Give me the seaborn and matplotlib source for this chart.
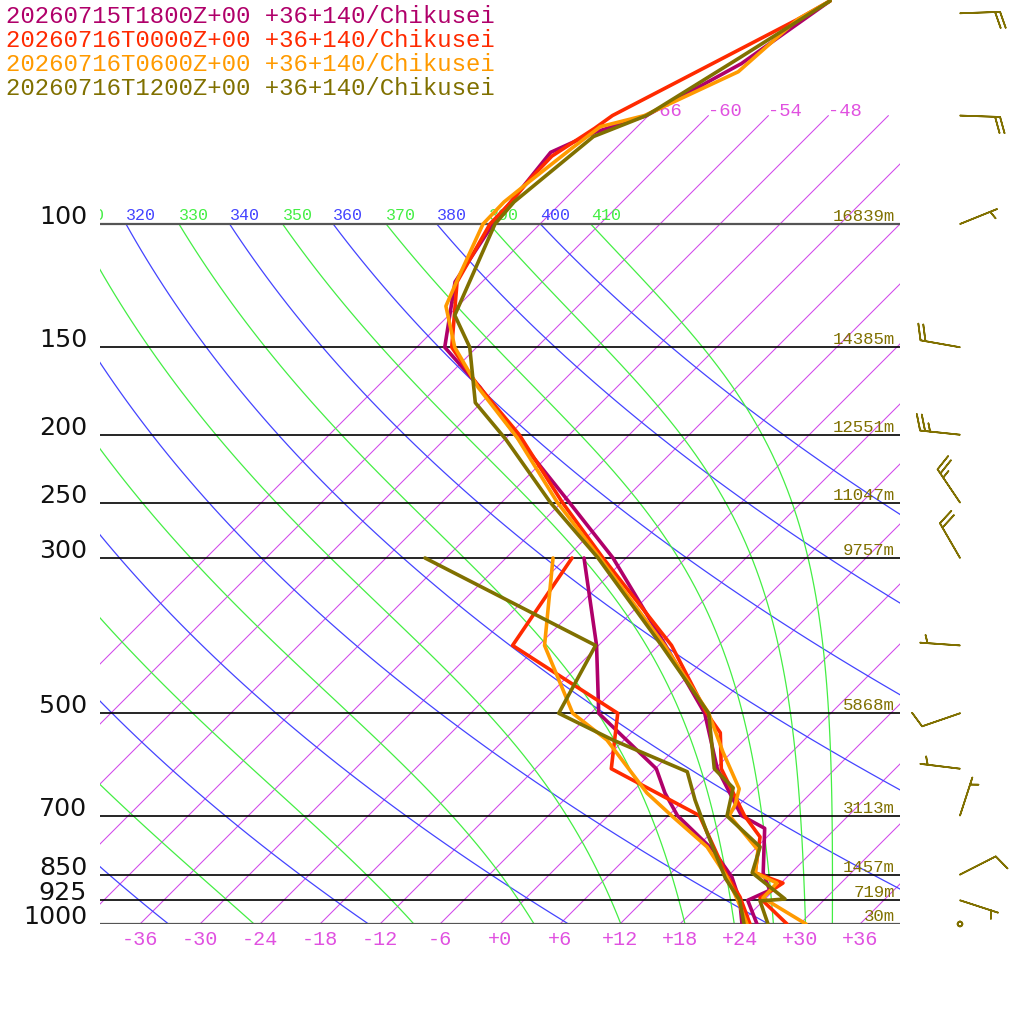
import numpy as np
import seaborn as sns
import matplotlib.pyplot as plt
from matplotlib import transforms

# ---- values ----
runs = ["20260715T1800Z+00", "20260716T0000Z+00", "20260716T0600Z+00", "20260716T1200Z+00"]
site = "+36+140/Chikusei"
run_colors = ["#b0006a", "#ff2a00", "#ff9a00", "#807000"]

# run 1 (18Z) temperature / dewpoint, hPa and degC
p_t_1 = [1000, 925, 895, 845, 730, 700, 600, 500, 400, 300, 250, 200, 171, 150, 121, 100, 79, 74, 70, 59, 48]
t_1 = [25.7, 22.4, 23.6, 21.2, 16.9, 13.3, 6.2, -0.6, -11.3, -25.3, -35.2, -47.4, -55.7, -63.2, -68.7, -70.7,
       -72.1, -69.7, -66.2, -61.9, -59.3]
p_d_1 = [1000, 925, 857, 784, 700, 650, 600, 500, 400, 300]
td_1 = [24.2, 21.6, 18.5, 13.9, 6.9, 3.4, 0.1, -11.2, -18.2, -28.2]

# run 2 (00Z)
p_t_2 = [1000, 918, 874, 845, 751, 700, 600, 533, 500, 400, 300, 250, 200, 169, 150, 121, 100, 93, 86, 80, 73,
         70, 51, 48]
t_2 = [28.7, 23.4, 24.2, 20.4, 17.3, 13.6, 6.6, 2.9, -0.4, -10.7, -26.3, -35.9, -47.0, -56.4, -62.5, -68.5,
       -71.0, -71.1, -71.5, -71.6, -70.1, -69.6, -60.7, -59.3]
p_d_2 = [1000, 915, 850, 700, 600, 500, 400, 300]
td_2 = [25.0, 21.3, 17.7, 9.1, -4.4, -9.3, -26.6, -29.4]

# run 3 (06Z)
p_t_3 = [1000, 918, 874, 845, 784, 700, 676, 641, 568, 500, 400, 300, 250, 202, 171, 150, 131, 120, 100, 93,
         87, 78, 72.6, 70, 60.6, 51, 48]
t_3 = [30.6, 23.7, 23.6, 20.4, 18.4, 12.1, 11.6, 10.4, 5.1, -0.2, -11.4, -26.6, -36.4, -46.9, -55.9, -62.2,
       -67.2, -68.7, -71.7, -71.8, -71.3, -70.4, -69.7, -66.4, -61.4, -60.7, -59.3]
p_d_3 = [1000, 925, 857, 776, 700, 650, 546, 500, 400, 300]
td_3 = [24.7, 21.4, 18.0, 13.0, 6.3, 1.6, -7.7, -13.8, -23.4, -31.3]

# run 4 (12Z)
p_t_4 = [1000, 927, 921, 845, 776, 701, 639, 600, 500, 400, 300, 250, 203, 180, 150, 135, 100, 93, 75, 70,
         58, 48]
t_4 = [26.8, 23.7, 26.0, 20.1, 18.3, 11.9, 9.7, 5.9, -0.2, -11.7, -26.8, -37.1, -47.9, -54.6, -60.7, -65.4,
       -70.5, -70.8, -69.4, -66.2, -62.7, -59.3]
p_d_4 = [1000, 925, 861, 741, 665, 606, 546, 500, 400, 300]
td_4 = [24.4, 21.6, 18.0, 11.6, 7.1, 3.5, -7.1, -15.2, -18.3, -44.1]

# winds (direction from, knots) for the last run
wind_p = [1000, 925, 850, 700, 600, 500, 400, 300, 250, 200, 150, 100, 70, 50]
wind_dir = [0, 108, 63, 18, 277, 251, 274, 330, 326, 276, 280, 68, 92, 88]
wind_kt = [0, 5, 10, 5, 5, 10, 5, 20, 25, 25, 20, 5, 20, 20]

# labelled pressure levels and their heights
level_p = [1000, 925, 850, 700, 500, 300, 250, 200, 150, 100]
level_h = [30, 719, 1457, 3113, 5868, 9757, 11047, 12551, 14385, 16839]

temp_ticks = list(range(-36, 37, 6))
isotherms = list(range(-66, 37, 6))
iso_labels = [-66, -60, -54, -48]
dry_thetas = list(range(240, 401, 20))
moist_thetas = list(range(250, 411, 20))

# ---- style ----
sns.set_theme(style="white")
MONO = ["Liberation Mono", "DejaVu Sans Mono"]
plt.rcParams["font.family"] = ["DejaVu Sans"]

ISO_C = "#d048ea"
ISO_TXT = "#e050e0"
BLUE = "#4444ff"
GREEN = "#44ee44"
OLIVE = "#807000"

SKEW = 70.0                       # degC per decade of pressure -> 45 deg
P_TOP = 1000.0 * 10 ** (-924 / 700)


def skew_x(t, p):
    return np.asarray(t, float) + SKEW * np.log10(1000.0 / np.asarray(p, float))


def theta_e_sat(tc, p):
    tk = tc + 273.15
    es = 6.112 * np.exp(17.67 * tc / (tc + 243.5))
    es = np.minimum(es, 0.5 * p)
    r = 0.622 * es / (p - es)
    return (tk * (1000.0 / p) ** (0.2854 * (1 - 0.28 * r))
            * np.exp((3.376 / tk - 0.00254) * r * 1000.0 * (1 + 0.81 * r)))


def moist_temp(the, p):
    lo = np.full_like(p, -140.0)
    hi = np.full_like(p, 50.0)
    for _ in range(50):
        mid = 0.5 * (lo + hi)
        warm = theta_e_sat(mid, p) > the
        hi = np.where(warm, mid, hi)
        lo = np.where(warm, lo, mid)
    return 0.5 * (lo + hi)


fig = plt.figure(figsize=(10.24, 10.24), dpi=100)
ax = fig.add_axes([100 / 1024, 100 / 1024, 800 / 1024, 924 / 1024])
ax.set_yscale("log")

up4 = transforms.offset_copy(ax.transData, fig=fig, x=0, y=4, units="dots")
up3 = transforms.offset_copy(ax.transData, fig=fig, x=0, y=3, units="dots")

# isotherms
iso_p = np.array([1000.0, 70.0])
for t in isotherms:
    ax.plot(skew_x([t, t], iso_p), iso_p, color=ISO_C, lw=0.75, zorder=1)
for t in iso_labels:
    ax.text(skew_x(t, 70), 70, str(t), color=ISO_TXT, fontsize=13.5, family=MONO,
            ha="left", va="baseline", zorder=2)


def adiabat_label(t100, th, color):
    x = float(skew_x(t100, 100))
    if x > -44:  # only labels that reach into the frame
        ax.text(x, 100, str(th), color=color, fontsize=12, family=MONO,
                ha="left", va="baseline", transform=up4, clip_on=True, zorder=2)


# dry and saturated adiabats
ad_p = np.geomspace(1000, 100, 80)
for th in dry_thetas:
    t = th * (ad_p / 1000.0) ** 0.2857 - 273.15
    ax.plot(skew_x(t, ad_p), ad_p, color=BLUE, lw=0.9, zorder=1)
    adiabat_label(t[-1], th, BLUE)
for th in moist_thetas:
    t = moist_temp(th, ad_p)
    ax.plot(skew_x(t, ad_p), ad_p, color=GREEN, lw=0.9, zorder=1)
    adiabat_label(t[-1], th, GREEN)

# pressure lines, pressure and height labels
for p, h in zip(level_p, level_h):
    edge = p in (100, 1000)
    ax.axhline(p, color="#555555" if edge else "black", lw=1.6 if edge else 1.2, zorder=2)
    ax.text(-0.016, p, str(p), transform=ax.get_yaxis_transform(), ha="right", va="baseline",
            fontsize=18.2, color="#111111")
    ax.text(39.5, p, f"{h}m", transform=up3, ha="right", va="baseline", fontsize=12.5,
            family=MONO, color=OLIVE, zorder=2)

# profiles
profiles = [(p_t_1, t_1, p_d_1, td_1), (p_t_2, t_2, p_d_2, td_2),
            (p_t_3, t_3, p_d_3, td_3), (p_t_4, t_4, p_d_4, td_4)]
for (pt, tt, pd_, td), c in zip(profiles, run_colors):
    sns.lineplot(x=skew_x(tt, pt), y=pt, sort=False, estimator=None, color=c, lw=2.6, ax=ax, zorder=4)
    sns.lineplot(x=skew_x(td, pd_), y=pd_, sort=False, estimator=None, color=c, lw=2.6, ax=ax, zorder=4)

# wind barbs
rad = np.deg2rad(wind_dir)
spd = np.asarray(wind_kt, float)
u = -spd * np.sin(rad)
v = -spd * np.cos(rad)
ax.barbs(np.full(len(wind_p), 46.0), wind_p, u, v, length=7.6, color=OLIVE, lw=1.2,
         sizes=dict(emptybarb=0.06), clip_on=False, zorder=3)

ax.set_xlim(-40, 40)
ax.set_ylim(1000, P_TOP)
ax.set_xticks(temp_ticks)
ax.set_xticklabels([f"{t:+d}" for t in temp_ticks])
ax.tick_params(axis="x", length=0, pad=4, labelcolor=ISO_TXT, labelsize=14.5)
for lbl in ax.get_xticklabels():
    lbl.set_family(MONO)
ax.set_yticks([])
ax.set_yticks([], minor=True)
ax.set_xlabel("")
ax.set_ylabel("")
for s in ax.spines.values():
    s.set_visible(False)

# run list in the top-left corner
for i, (run, c) in enumerate(zip(runs, run_colors)):
    fig.text(6 / 1024, 1 - (23 + 24 * i) / 1024, f"{run} {site}", color=c, fontsize=17.3,
             family=MONO, ha="left", va="baseline")

fig.savefig("out.png", dpi=100)
